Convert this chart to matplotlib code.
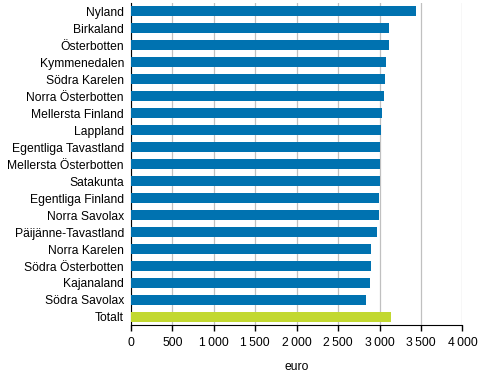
import matplotlib.pyplot as plt
import numpy as np

plt.rcParams['font.family'] = ['Liberation Sans', 'DejaVu Sans']

regions = ["Nyland", "Birkaland", "Österbotten", "Kymmenedalen", "Södra Karelen",
           "Norra Österbotten", "Mellersta Finland", "Lappland", "Egentliga Tavastland",
           "Mellersta Österbotten", "Satakunta", "Egentliga Finland", "Norra Savolax",
           "Päijänne-Tavastland", "Norra Karelen", "Södra Österbotten", "Kajanaland",
           "Södra Savolax", "Totalt"]
values = [3442, 3116, 3116, 3080, 3067, 3055, 3031, 3019, 3007, 3007, 3000,
          2995, 2995, 2971, 2899, 2899, 2886, 2838, 3140]

colors = ["#0072b0"] * (len(regions) - 1) + ["#c2d830"]

fig = plt.figure(figsize=(4.92, 3.82), dpi=100)
ax = fig.add_axes([0.266, 0.148, 0.674, 0.845])

y = np.arange(len(regions))
ax.barh(y, values, height=0.6, color=colors, zorder=3)
ax.set_ylim(len(regions) - 0.5, -0.5)
ax.set_yticks(y)
ax.set_yticklabels(regions, fontsize=8.7)
ax.tick_params(axis='y', length=0, pad=5)

ticks = np.arange(0, 4001, 500)
ax.set_xlim(0, 4000)
ax.set_xticks(ticks)
ax.set_xticklabels([f"{t:,}".replace(",", "\u2009") if t >= 1000 else str(t) for t in ticks], fontsize=8.7)
ax.tick_params(axis='x', length=4, width=1, color='black', pad=4)
ax.grid(axis='x', color='#c0c0c0', linewidth=0.9, zorder=0)

for s in ['top', 'right']:
    ax.spines[s].set_visible(False)
ax.spines['left'].set_color('black')
ax.spines['bottom'].set_color('black')

ax.set_xlabel("euro", fontsize=8.7, labelpad=9)

fig.savefig("out.png", dpi=100)
